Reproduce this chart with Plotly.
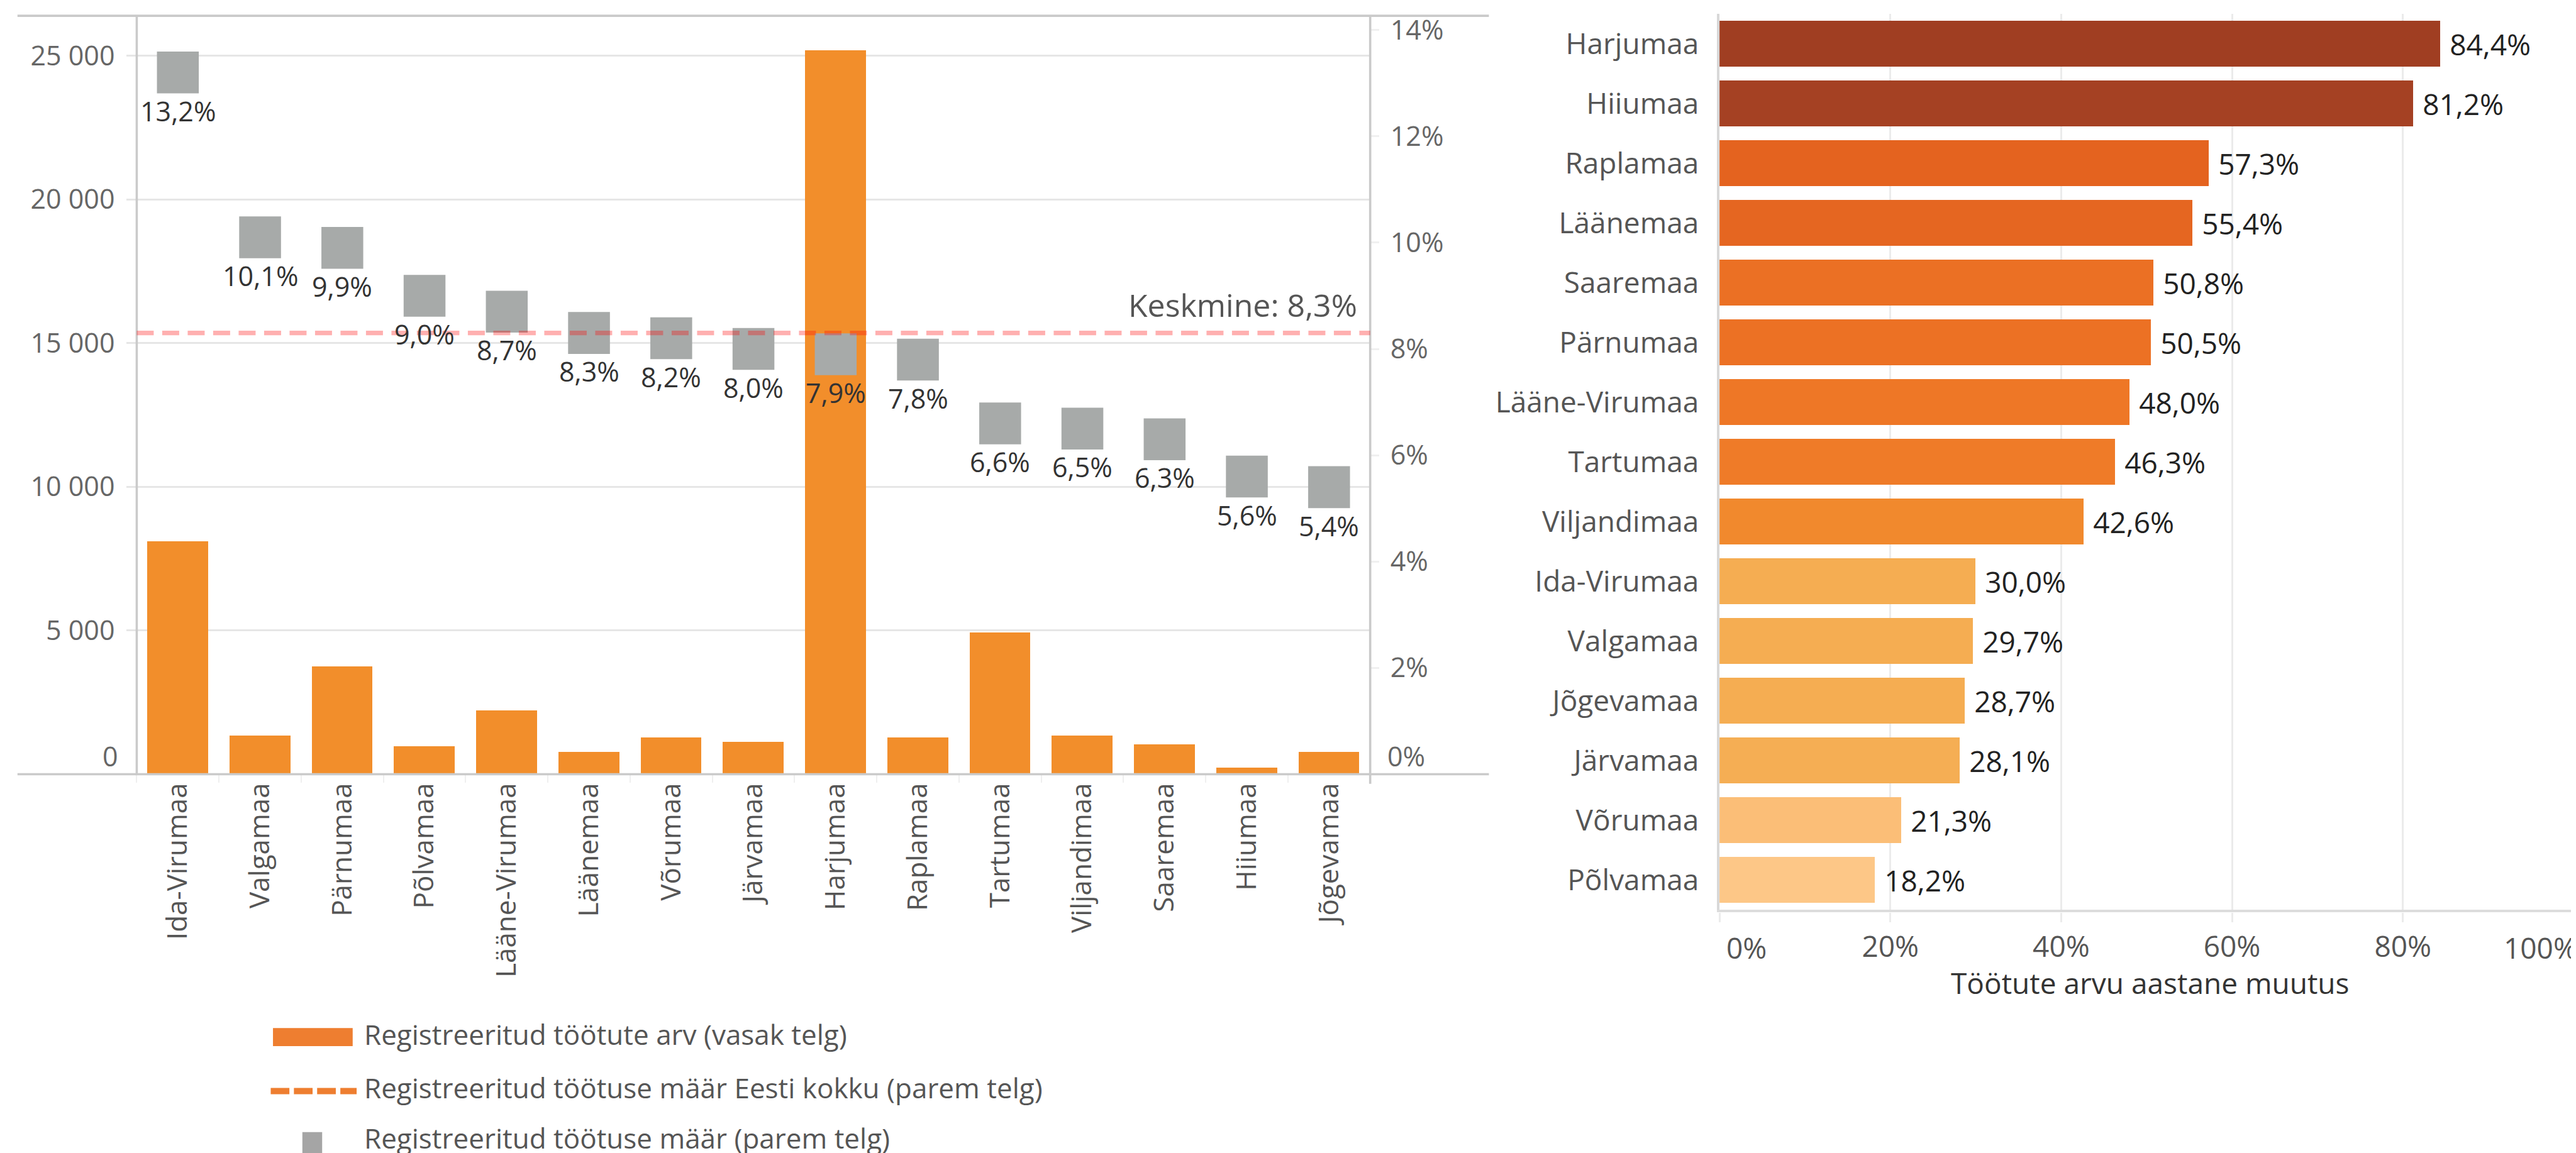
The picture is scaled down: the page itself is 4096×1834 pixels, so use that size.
import plotly.graph_objects as go

# ---------------- data ----------------
counties_left = ["Ida-Virumaa", "Valgamaa", "Pärnumaa", "Põlvamaa", "Lääne-Virumaa",
                 "Läänemaa", "Võrumaa", "Järvamaa", "Harjumaa", "Raplamaa", "Tartumaa",
                 "Viljandimaa", "Saaremaa", "Hiiumaa", "Jõgevamaa"]
unemployed_count = [8100, 1340, 3750, 980, 2220, 770, 1280, 1120, 25190, 1280, 4940,
                    1340, 1040, 240, 770]
unemployment_rate = [13.2, 10.1, 9.9, 9.0, 8.7, 8.3, 8.2, 8.0, 7.9, 7.8, 6.6, 6.5, 6.3, 5.6, 5.4]
estonia_rate = 8.3

counties_right = ["Harjumaa", "Hiiumaa", "Raplamaa", "Läänemaa", "Saaremaa", "Pärnumaa",
                  "Lääne-Virumaa", "Tartumaa", "Viljandimaa", "Ida-Virumaa", "Valgamaa",
                  "Jõgevamaa", "Järvamaa", "Võrumaa", "Põlvamaa"]
annual_change = [84.4, 81.2, 57.3, 55.4, 50.8, 50.5, 48.0, 46.3, 42.6, 30.0, 29.7, 28.7,
                 28.1, 21.3, 18.2]

count_ticks = [0, 5000, 10000, 15000, 20000, 25000]
rate_ticks = [0, 2, 4, 6, 8, 10, 12, 14]
change_ticks = [0, 20, 40, 60, 80, 100]

legend_labels = ["Registreeritud töötute arv (vasak telg)",
                 "Registreeritud töötuse määr Eesti kokku (parem telg)",
                 "Registreeritud töötuse määr (parem telg)"]
avg_label = "Keskmine"
change_title = "Töötute arvu aastane muutus"

# ---------------- styles ----------------
change_colors = ["#A03E22", "#A54123", "#E4631F", "#E56621", "#EB7024", "#EC7124",
                 "#EE7726", "#EF7B28", "#F1892D", "#F5AD52", "#F5AD52", "#F5AD52",
                 "#F5AE54", "#FBBE77", "#FDC787"]
ORANGE = "#F28E2B"
GRAY_MARK = "#A7AAA9"
FONT = "Open Sans"
TICK_GRAY = "#666666"

W, H = 4096, 1834
RW, RH = 4557, 2040
S = W / RW


def px(x):
    return x / RW


def py(y):
    return 1 - y / RH


def s(v):
    return v * S


def pct(v):
    return f"{v:.1f}".replace(".", ",") + "%"


def thousands(v):
    return f"{v:,}".replace(",", " ")


fig = go.Figure()

# left chart: bars (left axis)
fig.add_trace(go.Bar(
    x=counties_left, y=unemployed_count, marker=dict(color=ORANGE, line_width=0),
    width=0.74, xaxis="x", yaxis="y", showlegend=False, hoverinfo="x+y"))

# left chart: rate markers (right axis)
fig.add_trace(go.Scatter(
    x=counties_left, y=unemployment_rate, mode="markers",
    marker=dict(symbol="square", size=s(74), color=GRAY_MARK, line_width=0),
    xaxis="x", yaxis="y2", showlegend=False, cliponaxis=False))

# right chart: annual change bars
fig.add_trace(go.Bar(
    x=annual_change, y=counties_right, orientation="h",
    marker=dict(color=change_colors, line_width=0), width=0.76,
    text=["\u00a0" + pct(v) for v in annual_change], textposition="outside",
    textfont=dict(family=FONT, size=46, color="#222222"), constraintext="none",
    cliponaxis=False, xaxis="x3", yaxis="y3", showlegend=False))

LINE = "#CACACA"
shapes = [
    # left chart frame lines
    dict(type="line", xref="paper", yref="paper", x0=px(22), x1=px(2625), y0=py(19), y1=py(19),
         line=dict(color=LINE, width=s(4)), layer="above"),
    dict(type="line", xref="paper", yref="paper", x0=px(22), x1=px(2625), y0=py(1361), y1=py(1361),
         line=dict(color=LINE, width=s(4)), layer="above"),
    dict(type="line", xref="paper", yref="paper", x0=px(233), x1=px(233), y0=py(19), y1=py(1361),
         line=dict(color=LINE, width=s(4)), layer="above"),
    dict(type="line", xref="paper", yref="paper", x0=px(2415), x1=px(2415), y0=py(19), y1=py(1378),
         line=dict(color=LINE, width=s(4)), layer="above"),
    # average line
    dict(type="line", xref="x domain", yref="y2", x0=0, x1=1, y0=estonia_rate, y1=estonia_rate,
         line=dict(color="rgba(255,0,0,0.31)", width=s(8), dash=f"{s(30):.1f}px,{s(15):.1f}px"),
         layer="above"),
    # custom legend symbols
    dict(type="rect", xref="paper", yref="paper", x0=px(474), x1=px(615), y0=py(1842), y1=py(1810),
         fillcolor="#EE7E30", line_width=0),
    dict(type="line", xref="paper", yref="paper", x0=px(470), x1=px(622), y0=py(1921.5), y1=py(1921.5),
         line=dict(color="#EE7E30", width=s(11), dash=f"{s(33):.1f}px,{s(8):.1f}px")),
    dict(type="rect", xref="paper", yref="paper", x0=px(526), x1=px(561), y0=py(2033), y1=py(1994),
         fillcolor="#A5A5A5", line_width=0),
]

annotations = []
for c, r in zip(counties_left, unemployment_rate):
    annotations.append(dict(x=c, y=r, xref="x", yref="y2", yshift=-s(68), text=pct(r),
                            showarrow=False, font=dict(family=FONT, size=43, color="#333333")))
annotations.append(dict(xref="x domain", x=1, xanchor="right", xshift=-s(21), yref="y2",
                        y=estonia_rate, yshift=s(50), text=f"{avg_label}: {pct(estonia_rate)}",
                        showarrow=False, font=dict(family=FONT, size=50, color="#555555")))
# bottom ("0") tick labels of both left-chart axes sit slightly above the baseline
annotations.append(dict(xref="x domain", x=0, xanchor="right", xshift=-s(30), yref="y",
                        y=count_ticks[0], yshift=s(32), text=thousands(count_ticks[0]),
                        showarrow=False, font=dict(family=FONT, size=43, color=TICK_GRAY)))
annotations.append(dict(xref="x domain", x=1, xanchor="left", xshift=s(28), yref="y2",
                        y=rate_ticks[0], yshift=s(32), text=f"{rate_ticks[0]}%",
                        showarrow=False, font=dict(family=FONT, size=43, color=TICK_GRAY)))
# end tick labels of the right chart are kept inside the plot width
annotations.append(dict(xref="x3", x=change_ticks[0], xanchor="left", xshift=s(10),
                        yref="paper", y=py(1667), yanchor="middle", text=f"{change_ticks[0]}%",
                        showarrow=False, font=dict(family=FONT, size=46, color="#555555")))
annotations.append(dict(xref="x3 domain", x=1, xanchor="right", xshift=-s(4),
                        yref="paper", y=py(1667), yanchor="middle", text=f"{change_ticks[-1]}%",
                        showarrow=False, font=dict(family=FONT, size=46, color="#555555")))
for lbl, yy in zip(legend_labels, [1821, 1915, 2004]):
    annotations.append(dict(xref="paper", yref="paper", x=px(633), y=py(yy), xanchor="left",
                            yanchor="middle", text=lbl, showarrow=False,
                            font=dict(family=FONT, size=44, color="#555555")))
annotations.append(dict(xref="paper", yref="paper", x=(px(3033) + 1) / 2, y=py(1730),
                        xanchor="center", yanchor="middle", text=change_title, showarrow=False,
                        font=dict(family=FONT, size=46, color="#333333")))

fig.update_layout(
    width=W, height=H,
    margin=dict(l=0, r=0, t=0, b=0, autoexpand=False),
    paper_bgcolor="white", plot_bgcolor="rgba(0,0,0,0)",
    font=dict(family=FONT, color="#555555"),
    showlegend=False,
    bargap=0,
    shapes=shapes,
    annotations=annotations,
    xaxis=dict(
        domain=[px(233), px(2415)], anchor="y", type="category",
        categoryorder="array", categoryarray=counties_left, range=[-0.5, len(counties_left) - 0.5],
        tickangle=-90, ticks="outside", tickson="boundaries", ticklen=s(14), tickwidth=2,
        tickcolor="#EFEFEF", showline=False, showgrid=False, zeroline=False,
        tickfont=dict(family=FONT, size=44, color="#555555"), ticklabelstandoff=4,
        automargin=False),
    yaxis=dict(
        domain=[py(1361), py(19)], anchor="x", range=[0, 26386],
        tickvals=count_ticks, ticktext=[""] + [thousands(v) for v in count_ticks[1:]],
        showgrid=True, gridcolor="#E6E6E6", gridwidth=s(3), zeroline=False, showline=False,
        ticks="outside", ticklen=s(17), tickwidth=s(3), tickcolor="#E6E6E6",
        tickfont=dict(family=FONT, size=43, color=TICK_GRAY), ticklabelstandoff=10,
        automargin=False),
    yaxis2=dict(
        overlaying="y", side="right", anchor="x", range=[0, 14.266],
        tickvals=rate_ticks, ticktext=[""] + [f"{v}%" for v in rate_ticks[1:]],
        showgrid=False, zeroline=False, showline=False,
        ticks="outside", ticklen=s(15), tickwidth=s(3), tickcolor="#F0F0F0",
        tickfont=dict(family=FONT, size=43, color=TICK_GRAY), ticklabelstandoff=9,
        automargin=False),
    xaxis3=dict(
        domain=[px(3033), 1.0], anchor="y3", range=[0, 100.86],
        tickvals=change_ticks,
        ticktext=[""] + [f"{v}%" for v in change_ticks[1:-1]] + [""],
        showgrid=True, gridcolor="#EBEBEB", gridwidth=s(3), zeroline=False,
        showline=True, linecolor="#DCDCDC", linewidth=s(5),
        ticks="outside", ticklen=s(17), tickwidth=s(3), tickcolor="#EBEBEB",
        tickfont=dict(family=FONT, size=46, color="#555555"), ticklabelstandoff=0,
        automargin=False),
    yaxis3=dict(
        domain=[py(1601), py(16)], anchor="x3", type="category",
        categoryorder="array", categoryarray=counties_right,
        range=[len(counties_right) - 0.5, -0.5],
        showgrid=False, zeroline=False, showline=True, linecolor="#D8D8D8", linewidth=s(4),
        ticks="outside", ticklen=s(22), tickcolor="rgba(0,0,0,0)",
        tickfont=dict(family=FONT, size=46, color="#555555"),
        automargin=False),
)

fig.write_html("out.html")
